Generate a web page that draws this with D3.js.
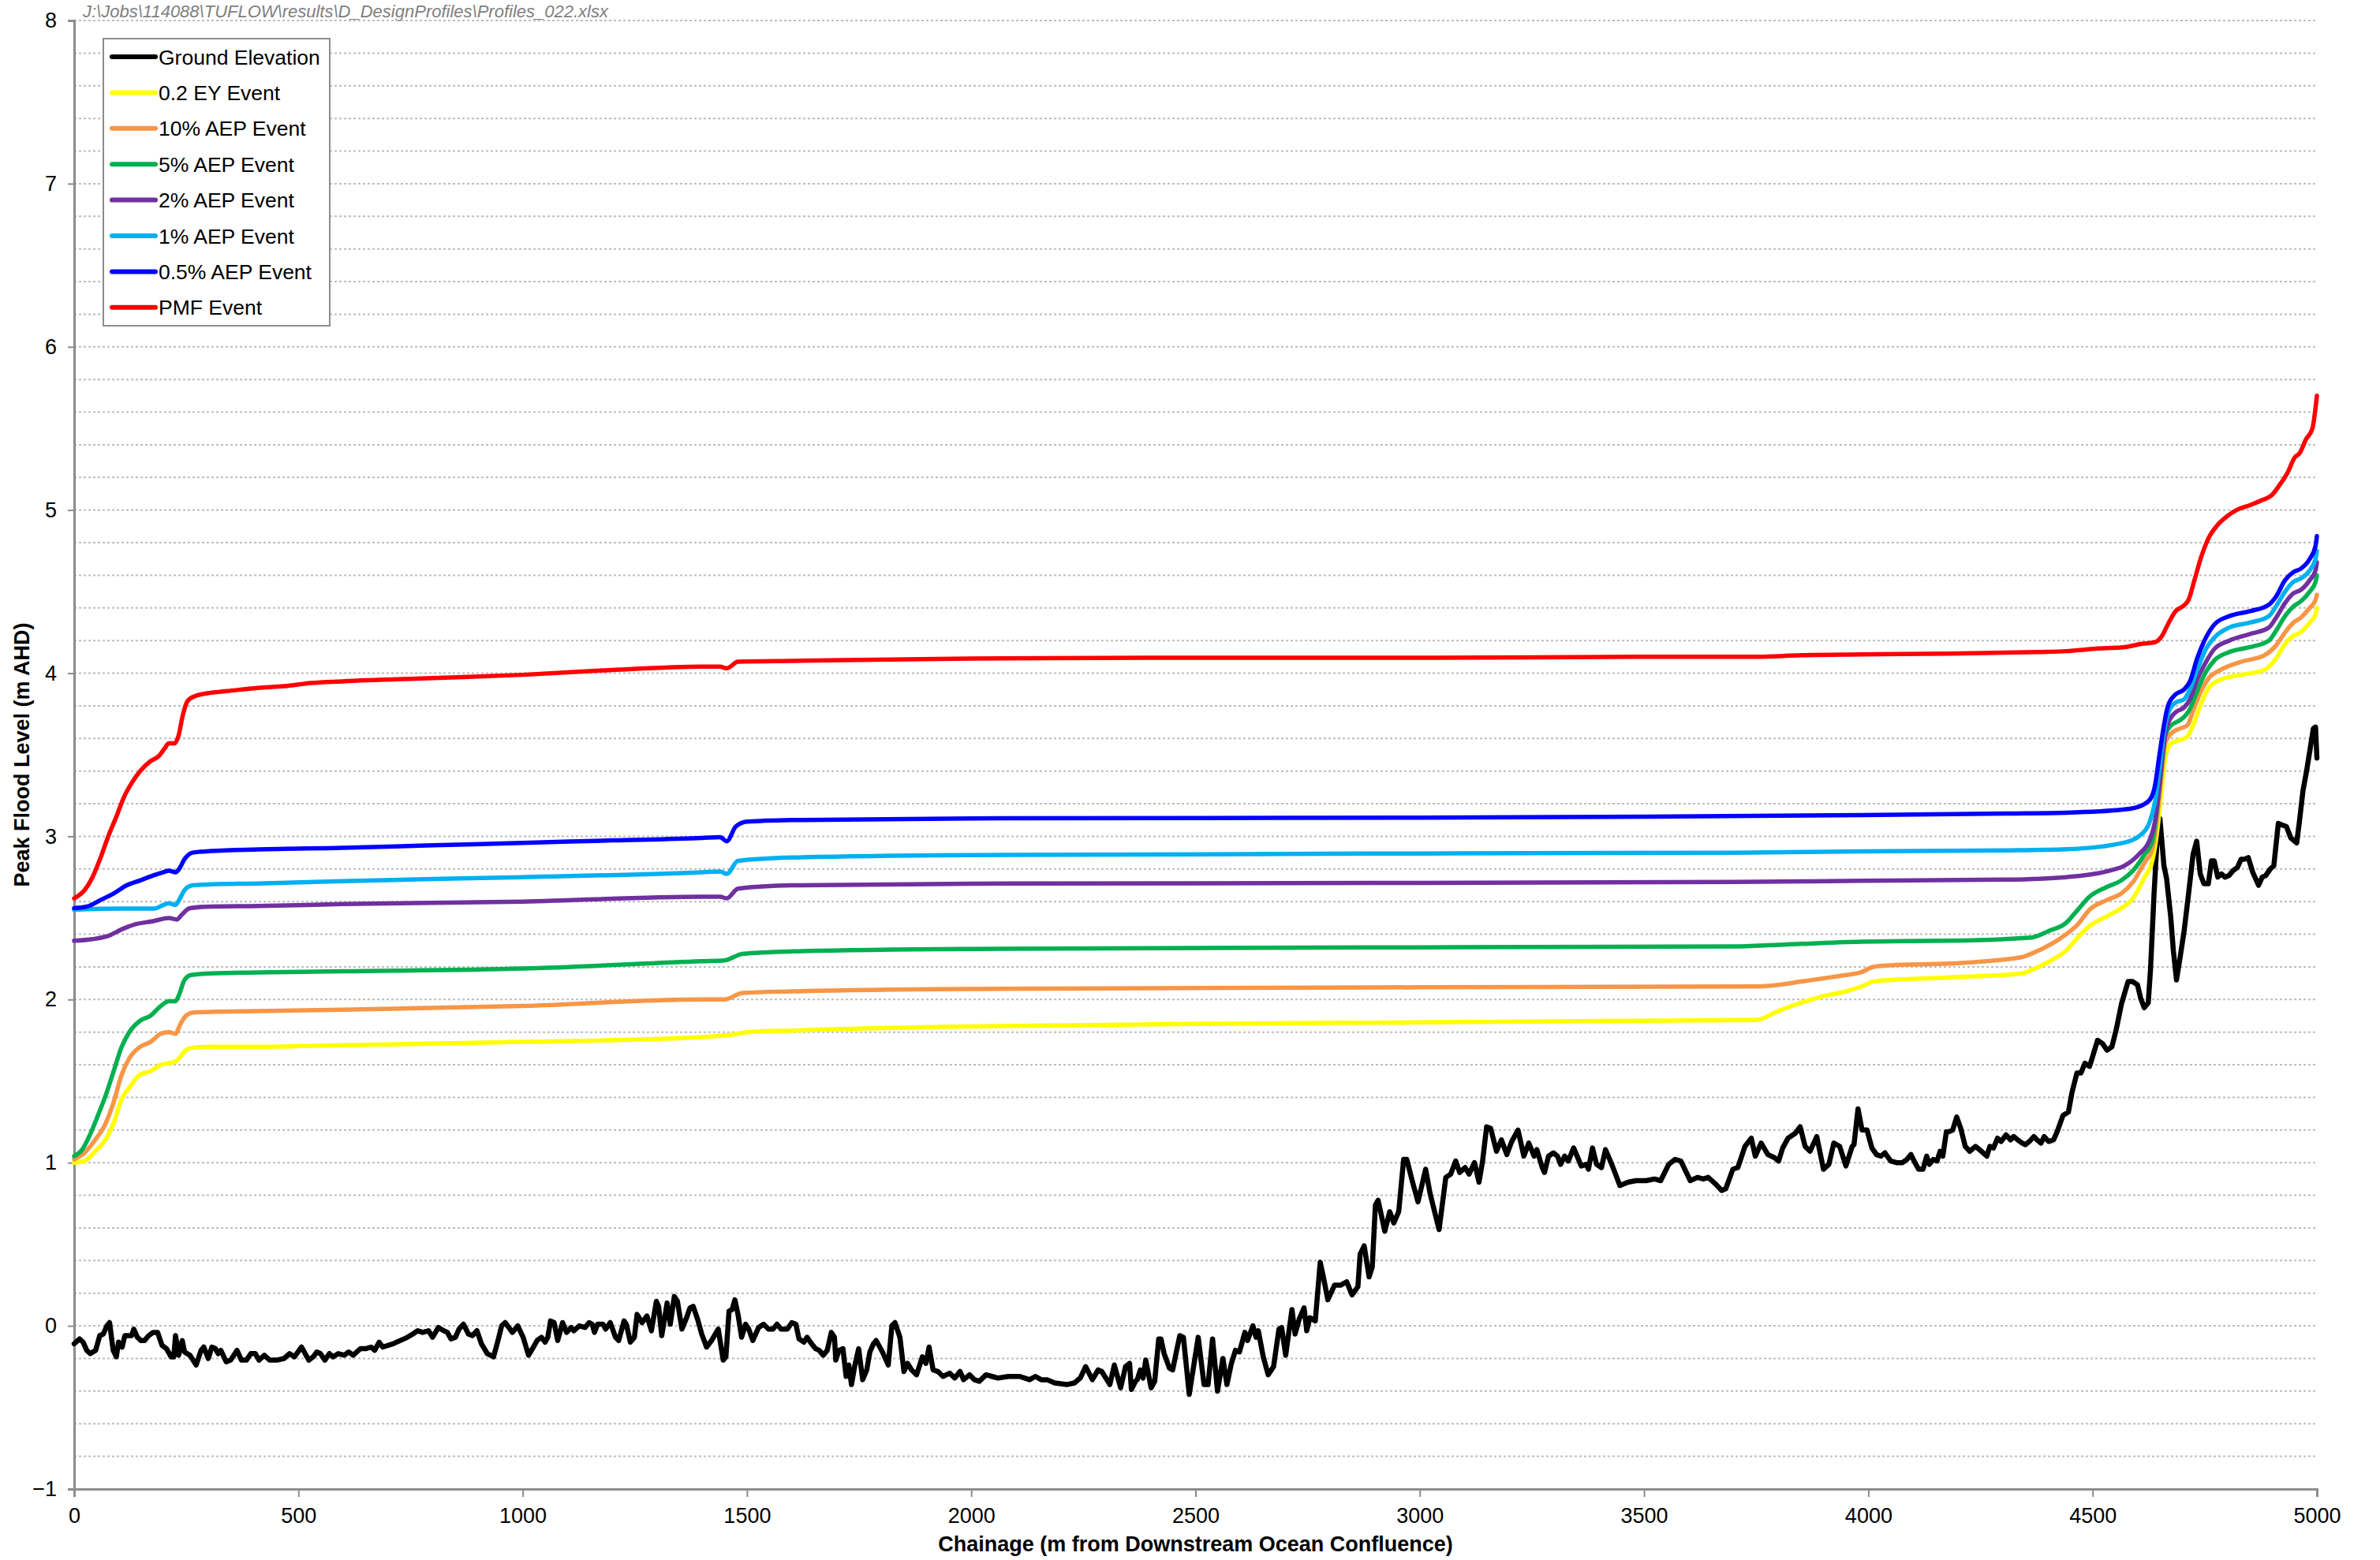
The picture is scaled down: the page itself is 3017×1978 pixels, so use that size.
<!DOCTYPE html>
<html>
<head>
<meta charset="utf-8">
<script src="https://cdn.jsdelivr.net/npm/d3@7"></script>
<style>
  body { margin: 0; background: #fff; }
  svg { display: block; font-family: "Liberation Sans", Arial, sans-serif; }
</style>
</head>
<body>
<svg id="chart"></svg>
<script>
const chartSize = {width: 3017, height: 1978};
const margin = {left: 94, right: 80, top: 26, bottom: 90};

const width = chartSize.width - margin.left - margin.right;
const height = chartSize.height - margin.top - margin.bottom;

const sourceFile = "J:\\Jobs\\114088\\TUFLOW\\results\\D_DesignProfiles\\Profiles_022.xlsx";
const xTicks = [0, 500, 1000, 1500, 2000, 2500, 3000, 3500, 4000, 4500, 5000];
const yTicks = [-1, 0, 1, 2, 3, 4, 5, 6, 7, 8];

const seriesNames = ["Ground Elevation", "0.2 EY Event", "10% AEP Event", "5% AEP Event",
  "2% AEP Event", "1% AEP Event", "0.5% AEP Event", "PMF Event"];
const seriesColors = ["#000000", "#ffff00", "#f79646", "#00b050", "#7030a0", "#00b0f0", "#0000ff", "#ff0000"];

// [chainage (m), level (m AHD)]
const ground = [[0,-0.11],[12,-0.08],[20,-0.10],[28,-0.15],[36,-0.17],[48,-0.15],[57,-0.06],[65,-0.05],[73,0.00],[79,0.02],[87,-0.15],[94,-0.19],[99,-0.10],[107,-0.13],[113,-0.06],[121,-0.06],[128,-0.06],[133,-0.02],[141,-0.07],[149,-0.09],[157,-0.09],[166,-0.06],[176,-0.04],[186,-0.04],[196,-0.12],[206,-0.14],[216,-0.19],[222,-0.19],[226,-0.06],[233,-0.18],[241,-0.09],[246,-0.16],[258,-0.18],[272,-0.24],[283,-0.15],[289,-0.13],[299,-0.20],[307,-0.13],[315,-0.14],[321,-0.17],[327,-0.15],[339,-0.22],[349,-0.21],[363,-0.15],[373,-0.21],[384,-0.21],[394,-0.17],[404,-0.17],[412,-0.21],[424,-0.18],[436,-0.21],[452,-0.21],[468,-0.20],[480,-0.17],[491,-0.19],[507,-0.13],[523,-0.21],[533,-0.19],[541,-0.16],[549,-0.17],[559,-0.21],[569,-0.17],[577,-0.19],[589,-0.17],[602,-0.18],[612,-0.16],[622,-0.18],[638,-0.14],[650,-0.14],[662,-0.13],[670,-0.15],[680,-0.10],[688,-0.13],[711,-0.11],[743,-0.07],[755,-0.05],[766,-0.03],[777,-0.04],[790,-0.03],[799,-0.07],[812,-0.01],[824,-0.03],[832,-0.04],[840,-0.08],[850,-0.07],[858,-0.02],[868,0.01],[879,-0.05],[888,-0.06],[898,-0.03],[908,-0.11],[921,-0.17],[935,-0.19],[945,-0.09],[953,0.00],[961,0.02],[977,-0.04],[989,0.00],[1001,-0.07],[1013,-0.18],[1024,-0.13],[1032,-0.09],[1042,-0.07],[1050,-0.10],[1056,-0.07],[1062,0.03],[1070,0.02],[1078,-0.09],[1089,0.02],[1098,-0.04],[1108,-0.01],[1114,-0.03],[1126,0.00],[1139,-0.01],[1148,0.02],[1155,0.01],[1160,-0.04],[1167,0.01],[1179,0.01],[1185,-0.02],[1195,0.02],[1207,-0.07],[1214,-0.09],[1226,0.03],[1231,0.01],[1240,-0.10],
  [1249,-0.07],[1255,0.07],[1266,0.02],[1277,0.06],[1287,-0.03],[1298,0.15],[1303,0.12],[1310,-0.06],[1322,0.14],[1329,0.01],[1338,0.18],[1345,0.15],[1355,-0.02],[1364,0.04],[1373,0.11],[1380,0.12],[1390,0.04],[1399,-0.05],[1410,-0.13],[1421,-0.09],[1436,-0.02],[1447,-0.21],[1453,-0.19],[1460,0.09],[1467,0.10],[1473,0.16],[1480,0.07],[1488,-0.07],[1497,0.01],[1504,-0.02],[1513,-0.09],[1526,-0.01],[1537,0.01],[1548,-0.02],[1558,-0.02],[1567,0.01],[1576,-0.02],[1590,-0.02],[1600,0.02],[1609,0.01],[1616,-0.08],[1627,-0.10],[1634,-0.07],[1644,-0.11],[1653,-0.14],[1661,-0.15],[1670,-0.18],[1679,-0.15],[1688,-0.04],[1695,-0.07],[1698,-0.21],[1705,-0.15],[1714,-0.14],[1721,-0.31],[1727,-0.24],[1733,-0.36],[1740,-0.25],[1749,-0.14],[1758,-0.33],[1767,-0.27],[1774,-0.16],[1782,-0.11],[1788,-0.09],[1802,-0.16],[1815,-0.24],[1823,0.00],[1830,0.02],[1841,-0.07],[1850,-0.28],[1858,-0.23],[1867,-0.27],[1878,-0.30],[1891,-0.19],[1899,-0.23],[1906,-0.13],[1915,-0.27],[1926,-0.28],[1937,-0.31],[1952,-0.29],[1963,-0.32],[1975,-0.28],[1983,-0.33],[1996,-0.30],[2007,-0.33],[2018,-0.34],[2033,-0.30],[2046,-0.31],[2060,-0.32],[2083,-0.31],[2108,-0.31],[2130,-0.33],[2143,-0.31],[2156,-0.33],[2169,-0.33],[2186,-0.35],[2213,-0.36],[2230,-0.35],[2243,-0.32],[2255,-0.25],[2270,-0.33],[2283,-0.27],[2291,-0.28],[2300,-0.32],[2309,-0.36],[2319,-0.24],[2333,-0.38],[2344,-0.25],[2353,-0.23],[2357,-0.39],[2366,-0.34],[2370,-0.33],[2377,-0.27],[2383,-0.32],[2389,-0.21],[2401,-0.38],[2409,-0.34],[2418,-0.08],[2423,-0.08],[2430,-0.17],[2442,-0.26],[2449,-0.27],[2458,-0.15],[2465,-0.06],[2473,-0.07],[2486,-0.42],[2506,-0.07],[2519,-0.36],[2528,-0.36],[2538,-0.08],[2549,-0.40],[2561,-0.20],[2570,-0.36],[2580,-0.23],[2589,-0.15],[2598,-0.16],
  [2610,-0.04],[2616,-0.09],[2628,0.00],[2635,-0.07],[2640,-0.03],[2651,-0.19],[2662,-0.30],[2674,-0.25],[2686,-0.02],[2692,-0.01],[2701,-0.18],[2715,0.10],[2722,-0.05],[2731,0.04],[2742,0.11],[2748,-0.03],[2755,0.05],[2767,0.03],[2778,0.39],[2785,0.30],[2795,0.16],[2810,0.25],[2824,0.25],[2837,0.27],[2849,0.19],[2862,0.24],[2867,0.44],[2876,0.49],[2887,0.30],[2894,0.36],[2901,0.74],[2907,0.77],[2922,0.58],[2933,0.70],[2942,0.63],[2953,0.70],[2964,1.02],[2971,1.02],[2983,0.89],[2996,0.76],[3013,0.96],[3023,0.81],[3043,0.59],[3058,0.91],[3069,0.93],[3080,1.01],[3089,0.94],[3101,0.97],[3110,0.93],[3122,1.00],[3132,0.88],[3140,1.01],[3149,1.22],[3158,1.21],[3171,1.07],[3182,1.14],[3194,1.05],[3205,1.13],[3219,1.20],[3232,1.04],[3243,1.12],[3255,1.04],[3261,1.08],[3273,0.97],[3278,0.94],[3287,1.04],[3298,1.06],[3307,1.04],[3314,0.99],[3323,1.04],[3331,1.01],[3343,1.09],[3360,0.98],[3371,0.99],[3376,0.96],[3385,1.09],[3394,0.99],[3405,0.97],[3414,1.08],[3428,0.99],[3446,0.86],[3464,0.88],[3482,0.89],[3505,0.89],[3523,0.90],[3537,0.89],[3555,0.99],[3569,1.02],[3582,1.01],[3603,0.89],[3619,0.91],[3632,0.90],[3643,0.91],[3659,0.87],[3673,0.83],[3682,0.84],[3698,0.96],[3709,0.97],[3725,1.10],[3739,1.15],[3748,1.04],[3761,1.12],[3776,1.05],[3791,1.03],[3800,1.01],[3809,1.09],[3821,1.15],[3837,1.18],[3848,1.22],[3859,1.10],[3870,1.07],[3885,1.16],[3900,0.96],[3912,0.99],[3923,1.12],[3936,1.10],[3950,0.98],[3964,1.10],[3968,1.11],[3977,1.33],[3986,1.20],[3997,1.20],
  [4008,1.09],[4018,1.05],[4028,1.04],[4037,1.06],[4050,1.01],[4063,1.00],[4076,1.00],[4086,1.02],[4095,1.05],[4102,1.01],[4112,0.96],[4122,0.96],[4130,1.04],[4136,0.99],[4145,1.02],[4153,1.01],[4160,1.07],[4166,1.04],[4174,1.19],[4180,1.19],[4188,1.20],[4197,1.28],[4206,1.21],[4216,1.10],[4226,1.07],[4239,1.10],[4252,1.07],[4264,1.04],[4271,1.10],[4279,1.09],[4288,1.15],[4296,1.13],[4307,1.17],[4317,1.14],[4324,1.16],[4333,1.14],[4343,1.12],[4350,1.11],[4359,1.13],[4369,1.16],[4376,1.14],[4385,1.12],[4392,1.16],[4402,1.13],[4413,1.14],[4421,1.19],[4434,1.29],[4446,1.31],[4454,1.43],[4465,1.55],[4474,1.55],[4483,1.61],[4493,1.59],[4500,1.65],[4511,1.75],[4522,1.73],[4532,1.69],[4543,1.71],[4553,1.82],[4564,1.97],[4579,2.11],[4589,2.11],[4600,2.09],[4607,2.01],[4615,1.95],[4624,1.98],[4629,2.18],[4637,2.65],[4644,2.99],[4650,3.11],[4659,2.82],[4665,2.74],[4674,2.51],[4680,2.30],[4687,2.12],[4694,2.24],[4704,2.42],[4714,2.65],[4724,2.89],[4732,2.97],[4740,2.77],[4748,2.71],[4758,2.71],[4765,2.85],[4771,2.85],[4779,2.75],[4787,2.77],[4795,2.75],[4804,2.76],[4813,2.79],[4823,2.81],[4831,2.86],[4839,2.86],[4847,2.87],[4857,2.78],[4870,2.70],[4878,2.75],[4886,2.76],[4896,2.80],[4904,2.82],[4914,3.08],[4922,3.07],[4932,3.06],[4942,2.99],[4955,2.96],[4961,3.09],[4969,3.28],[4977,3.40],[4984,3.52],[4992,3.66],[4997,3.67],[5000,3.48]];

const ey02 = [[0,1.00],[23,1.01],[47,1.07],[70,1.14],[88,1.24],[106,1.39],[123,1.46],[147,1.54],[170,1.56],[193,1.60],[211,1.61],[226,1.62],[237,1.65],[249,1.69],[264,1.705],[305,1.71],[410,1.71],[598,1.72],[1000,1.74],[1400,1.77],[1480,1.79],[1500,1.80],[1600,1.81],[2000,1.835],[2500,1.85],[3000,1.86],[3500,1.87],[3750,1.875],[3800,1.93],[3850,1.98],[3900,2.02],[3950,2.05],[3985,2.08],[4011,2.11],[4050,2.12],[4180,2.135],[4343,2.16],[4363,2.18],[4408,2.24],[4441,2.30],[4467,2.38],[4493,2.45],[4532,2.51],[4564,2.56],[4590,2.62],[4616,2.75],[4633,2.85],[4642,2.99],[4652,3.23],[4662,3.48],[4675,3.57],[4694,3.59],[4711,3.61],[4724,3.68],[4740,3.80],[4759,3.91],[4785,3.96],[4831,3.99],[4883,4.02],[4909,4.09],[4929,4.18],[4948,4.23],[4964,4.25],[4984,4.31],[4997,4.36],[5000,4.40]];

const aep10 = [[0,1.02],[23,1.06],[47,1.14],[70,1.24],[88,1.37],[106,1.54],[123,1.64],[147,1.71],[170,1.74],[193,1.79],[211,1.80],[226,1.79],[237,1.85],[249,1.90],[264,1.92],[305,1.924],[410,1.929],[598,1.937],[1000,1.96],[1400,2.00],[1450,2.00],[1490,2.04],[1600,2.05],[2000,2.065],[3000,2.075],[3750,2.08],[3800,2.09],[3850,2.11],[3900,2.13],[3950,2.15],[3985,2.168],[4011,2.20],[4050,2.21],[4180,2.22],[4343,2.26],[4363,2.28],[4408,2.34],[4441,2.40],[4467,2.46],[4493,2.55],[4532,2.61],[4564,2.65],[4590,2.72],[4616,2.84],[4633,2.92],[4642,3.07],[4652,3.33],[4662,3.57],[4675,3.63],[4694,3.66],[4711,3.68],[4724,3.77],[4740,3.88],[4759,3.97],[4785,4.02],[4831,4.07],[4883,4.11],[4909,4.17],[4929,4.25],[4948,4.31],[4964,4.34],[4984,4.40],[4997,4.45],[5000,4.48]];

const aep5 = [[0,1.04],[18,1.08],[35,1.17],[53,1.29],[70,1.41],[88,1.56],[106,1.71],[123,1.80],[147,1.87],[170,1.90],[193,1.96],[211,1.99],[226,1.99],[234,2.03],[246,2.12],[261,2.15],[305,2.16],[410,2.166],[598,2.173],[1000,2.19],[1400,2.235],[1450,2.24],[1490,2.28],[1600,2.295],[2000,2.31],[3000,2.32],[3700,2.325],[3800,2.335],[3985,2.355],[4180,2.36],[4363,2.38],[4402,2.42],[4441,2.47],[4467,2.55],[4493,2.63],[4532,2.69],[4564,2.73],[4590,2.79],[4616,2.89],[4633,2.97],[4642,3.13],[4652,3.38],[4662,3.62],[4675,3.68],[4694,3.71],[4707,3.74],[4717,3.78],[4733,3.89],[4753,4.01],[4772,4.08],[4805,4.13],[4851,4.16],[4893,4.20],[4909,4.26],[4929,4.35],[4948,4.41],[4964,4.44],[4984,4.50],[4997,4.56],[5000,4.60]];

const aep2 = [[0,2.36],[41,2.37],[76,2.39],[106,2.43],[135,2.46],[176,2.48],[211,2.50],[229,2.49],[240,2.52],[258,2.56],[305,2.57],[410,2.573],[598,2.585],[1000,2.60],[1400,2.63],[1440,2.63],[1455,2.62],[1480,2.68],[1600,2.70],[2000,2.71],[3000,2.715],[3700,2.72],[3985,2.728],[4311,2.735],[4441,2.75],[4538,2.79],[4571,2.82],[4603,2.89],[4629,2.99],[4639,3.09],[4649,3.31],[4659,3.57],[4668,3.69],[4685,3.76],[4704,3.79],[4717,3.84],[4733,3.96],[4753,4.07],[4772,4.15],[4805,4.20],[4851,4.24],[4893,4.28],[4909,4.34],[4929,4.43],[4948,4.49],[4964,4.51],[4984,4.57],[4997,4.63],[5000,4.68]];

const aep1 = [[0,2.55],[59,2.556],[117,2.558],[179,2.558],[199,2.58],[211,2.59],[226,2.58],[234,2.61],[246,2.67],[264,2.70],[305,2.706],[410,2.711],[598,2.726],[1000,2.75],[1400,2.78],[1440,2.785],[1455,2.77],[1480,2.85],[1600,2.87],[2000,2.885],[3000,2.895],[3700,2.90],[3985,2.908],[4311,2.914],[4441,2.921],[4571,2.962],[4603,3.00],[4626,3.08],[4639,3.21],[4649,3.41],[4659,3.63],[4668,3.75],[4685,3.82],[4704,3.84],[4717,3.90],[4733,4.02],[4753,4.15],[4772,4.22],[4805,4.28],[4851,4.31],[4893,4.35],[4909,4.41],[4929,4.50],[4948,4.56],[4964,4.58],[4984,4.63],[4997,4.70],[5000,4.75]];

const aep05 = [[0,2.56],[29,2.57],[59,2.61],[88,2.65],[117,2.70],[147,2.73],[176,2.76],[199,2.78],[211,2.79],[226,2.78],[234,2.80],[246,2.86],[264,2.90],[305,2.91],[410,2.92],[598,2.93],[800,2.945],[1000,2.96],[1200,2.975],[1400,2.99],[1440,2.995],[1455,2.97],[1475,3.06],[1500,3.09],[1600,3.10],[2000,3.11],[3000,3.115],[3500,3.12],[3985,3.13],[4311,3.14],[4441,3.145],[4571,3.165],[4610,3.19],[4629,3.23],[4639,3.31],[4649,3.50],[4659,3.68],[4668,3.80],[4685,3.87],[4704,3.90],[4717,3.95],[4733,4.09],[4753,4.22],[4772,4.30],[4805,4.35],[4851,4.38],[4893,4.42],[4909,4.47],[4929,4.57],[4948,4.62],[4964,4.64],[4984,4.70],[4997,4.78],[5000,4.84]];

const pmf = [[0,2.62],[23,2.67],[41,2.75],[59,2.87],[76,3.00],[94,3.12],[111,3.24],[129,3.33],[147,3.40],[170,3.46],[188,3.49],[202,3.54],[211,3.57],[224,3.57],[233,3.62],[242,3.74],[253,3.83],[270,3.86],[305,3.88],[340,3.89],[410,3.91],[469,3.92],[528,3.94],[598,3.95],[800,3.97],[1000,3.99],[1200,4.02],[1400,4.04],[1440,4.04],[1455,4.03],[1480,4.07],[1600,4.075],[2000,4.09],[2500,4.095],[3000,4.095],[3500,4.10],[3750,4.10],[3850,4.11],[3985,4.115],[4180,4.12],[4376,4.13],[4441,4.135],[4506,4.15],[4571,4.16],[4610,4.18],[4639,4.19],[4655,4.23],[4668,4.30],[4685,4.38],[4701,4.41],[4714,4.45],[4727,4.57],[4743,4.72],[4759,4.83],[4776,4.90],[4799,4.96],[4821,5.00],[4851,5.03],[4877,5.06],[4899,5.09],[4916,5.15],[4935,5.23],[4950,5.32],[4962,5.35],[4975,5.43],[4990,5.50],[5000,5.70]];

const seriesData = [ground, ey02, aep10, aep5, aep2, aep1, aep05, pmf];

const drawChart = () => {
  const svg = d3.select("#chart")
    .attr("width", chartSize.width)
    .attr("height", chartSize.height);

  const x = d3.scaleLinear().domain([0, 5000]).range([0, width]);
  const y = d3.scaleLinear().domain([-1, 8]).range([height, 0]);

  svg.append("text")
    .attr("x", 105)
    .attr("y", 22)
    .attr("font-size", 22)
    .attr("font-style", "italic")
    .attr("fill", "#808080")
    .text(sourceFile);

  const g = svg.append("g")
    .attr("transform", `translate(${margin.left},${margin.top})`);

  // dotted gridlines every 0.2 m
  const gridValues = d3.range(-0.8, 8.01, 0.2).map(v => +v.toFixed(1));
  g.append("g")
    .selectAll("line")
    .data(gridValues)
    .enter()
    .append("line")
    .attr("x1", 0)
    .attr("x2", width)
    .attr("y1", d => y(d))
    .attr("y2", d => y(d))
    .attr("stroke", "#bdbdbd")
    .attr("stroke-width", 2)
    .attr("stroke-dasharray", "3,3");

  const xAxis = d3.axisBottom(x).tickValues(xTicks).tickFormat(d3.format("d")).tickSize(10).tickPadding(14);
  const yAxis = d3.axisLeft(y).tickValues(yTicks).tickSize(8).tickPadding(14);

  g.append("g")
    .attr("class", "y-axis")
    .call(yAxis);

  g.append("g")
    .attr("class", "x-axis")
    .attr("transform", `translate(0, ${height})`)
    .call(xAxis);

  g.selectAll(".x-axis path, .y-axis path")
    .attr("stroke", "#8c8c8c")
    .attr("stroke-width", 3);
  g.selectAll(".x-axis .tick line, .y-axis .tick line")
    .attr("stroke", "#8c8c8c")
    .attr("stroke-width", 2);
  g.selectAll(".x-axis text, .y-axis text")
    .attr("font-size", 27)
    .attr("font-family", "Liberation Sans, Arial, sans-serif")
    .attr("fill", "#000");

  g.append("text")
    .attr("x", width / 2)
    .attr("y", height + 79)
    .attr("text-anchor", "middle")
    .attr("font-size", 27)
    .attr("font-weight", "bold")
    .text("Chainage (m from Downstream Ocean Confluence)");

  g.append("text")
    .attr("transform", "rotate(-90)")
    .attr("x", -height / 2)
    .attr("y", 37 - margin.left)
    .attr("text-anchor", "middle")
    .attr("font-size", 27)
    .attr("font-weight", "bold")
    .text("Peak Flood Level (m AHD)");

  const groundLine = d3.line()
    .x(d => x(d[0]))
    .y(d => y(d[1]));

  const floodLine = d3.line()
    .curve(d3.curveMonotoneX)
    .x(d => x(d[0]))
    .y(d => y(d[1]));

  g.append("g")
    .selectAll("path")
    .data(seriesData)
    .enter()
    .append("path")
    .attr("d", (d, i) => i === 0 ? groundLine(d) : floodLine(d))
    .attr("fill", "none")
    .attr("stroke", (d, i) => seriesColors[i])
    .attr("stroke-width", (d, i) => i === 0 ? 6.5 : 5.5)
    .attr("stroke-linejoin", "round")
    .attr("stroke-linecap", "round");

  // legend
  const legend = svg.append("g").attr("transform", "translate(131,49)");
  legend.append("rect")
    .attr("width", 287)
    .attr("height", 364)
    .attr("fill", "#fff")
    .attr("stroke", "#8c8c8c")
    .attr("stroke-width", 2);

  const items = legend.selectAll(".item")
    .data(seriesNames)
    .enter()
    .append("g")
    .attr("class", "item")
    .attr("transform", (d, i) => `translate(0, ${23 + i * 45.4})`);

  items.append("line")
    .attr("x1", 11)
    .attr("x2", 66)
    .attr("stroke", (d, i) => seriesColors[i])
    .attr("stroke-width", 6)
    .attr("stroke-linecap", "round");

  items.append("text")
    .attr("x", 70)
    .attr("dy", "0.36em")
    .attr("font-size", 26.5)
    .text(d => d);
};

window.onload = drawChart;
</script>
</body>
</html>
